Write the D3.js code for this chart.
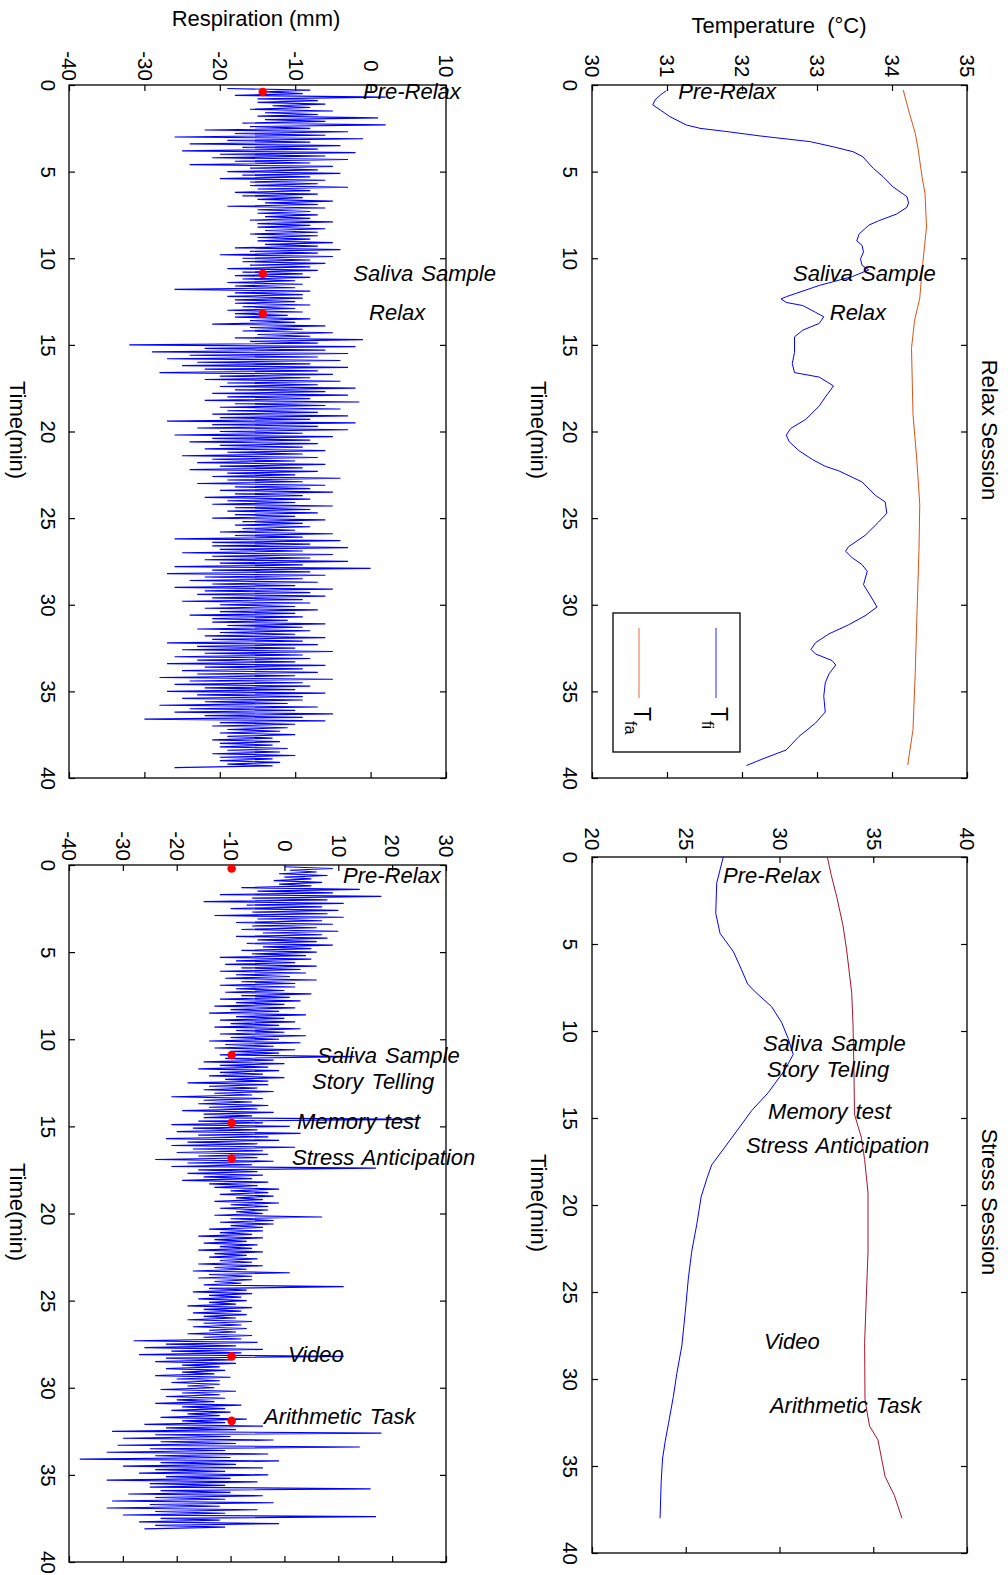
<!DOCTYPE html>
<html>
<head>
<meta charset="utf-8">
<script src="https://cdn.jsdelivr.net/npm/d3@7"></script>
<style>
  html, body { margin: 0; padding: 0; background: #fff; }
  svg { display: block; font-family: "Liberation Sans", Arial, Helvetica, sans-serif; }
</style>
</head>
<body>
<svg id="fig" width="1008" height="1575"></svg>
<script>
// ---------- tick values ----------
const timeTicks = [0, 5, 10, 15, 20, 25, 30, 35, 40];
const relaxTempTicks = [30, 31, 32, 33, 34, 35];
const stressTempTicks = [20, 25, 30, 35, 40];
const relaxRespTicks = [-40, -30, -20, -10, 0, 10];
const stressRespTicks = [-40, -30, -20, -10, 0, 10, 20, 30];

// ---------- facial temperatures: [time (min), temperature (°C)] ----------
const relaxTfi = [
  [0.33,30.99],[0.58,30.91],[0.87,30.84],[1.15,30.81],[1.44,30.91],[1.83,31.04],[2.31,31.26],[2.5,31.44],
  [2.69,31.8],[2.94,32.24],[3.27,32.91],[3.56,33.21],[3.85,33.48],[4.14,33.61],[4.81,33.75],[5.29,33.88],
  [5.87,34.01],[6.45,34.2],[6.8,34.22],[7.06,34.2],[7.45,34.06],[7.84,33.82],[8.09,33.69],[8.61,33.56],
  [9.0,33.53],[9.25,33.6],[9.64,33.62],[10.03,33.58],[10.41,33.6],[10.67,33.69],[11.06,33.47],[11.57,33.03],
  [12.22,32.59],[12.35,32.52],[12.55,32.59],[12.73,32.81],[13.12,32.98],[13.38,33.09],[13.76,33.03],[14.15,32.81],
  [14.54,32.7],[15.44,32.7],[16.08,32.67],[16.6,32.7],[16.86,33.03],[17.37,33.22],[18.02,33.11],[18.53,33.03],
  [19.3,32.85],[19.82,32.65],[20.21,32.59],[20.59,32.63],[21.11,32.76],[21.62,32.94],[22.01,33.11],[22.27,33.29],
  [22.91,33.6],[23.69,33.78],[24.07,33.91],[24.72,33.93],[25.23,33.82],[26.0,33.64],[26.65,33.42],[26.91,33.38],
  [27.29,33.47],[27.68,33.6],[28.07,33.67],[28.84,33.62],[29.61,33.73],[30.13,33.8],[30.64,33.64],[31.16,33.42],
  [31.68,33.16],[32.19,32.98],[32.58,32.92],[32.84,32.98],[33.22,33.2],[33.48,33.25],[33.99,33.16],[34.51,33.11],
  [35.28,33.09],[36.19,33.11],[36.83,32.98],[37.6,32.76],[38.38,32.59],[38.89,32.28],[39.28,32.06]
];
const relaxTfa = [
  [0.29,34.15],[1.44,34.22],[2.79,34.31],[3.75,34.35],[5.29,34.4],[6.25,34.44],[8.2,34.46],[10.3,34.41],
  [12.3,34.37],[13.6,34.3],[15.2,34.26],[19.0,34.28],[21.6,34.33],[24.2,34.37],[26.8,34.36],[30.9,34.33],
  [33.9,34.31],[37.2,34.28],[39.25,34.21]
];
const stressTfi = [
  [0,27.0],[1.5,26.65],[3.24,26.6],[4.39,26.83],[5.44,27.54],[6.49,27.98],[7.3,28.3],[7.8,28.75],
  [8.59,29.57],[9.5,30.11],[10.42,30.46],[11.35,30.73],[12.24,30.28],[13.54,29.4],[14.58,28.51],[15.63,27.8],
  [16.67,27.09],[17.7,26.38],[18.5,26.12],[19.53,25.82],[21.1,25.59],[22.66,25.32],[24.2,25.14],[26.3,24.96],
  [28.1,24.79],[29.7,24.52],[31.0,24.34],[32.55,24.08],[33.6,23.9],[34.6,23.76],[35.9,23.69],[38.0,23.63]
];
const stressTfa = [
  [0,32.55],[1.0,32.75],[2.28,33.05],[3.9,33.38],[5.34,33.58],[7.8,33.85],[9.6,33.92],[12.2,33.97],
  [14.8,34.0],[16.1,34.36],[17.4,34.54],[19.3,34.72],[22.7,34.72],[25.3,34.63],[27.9,34.54],[31.2,34.56],
  [32.7,34.8],[33.5,35.25],[35.6,35.63],[36.7,36.13],[38.0,36.53]
];

// ---------- respiration (mm), sampled every 0.1 min ----------
const respStep = 0.1;
const respRelaxStart = 0.2;
const respRelax = [
  -19,-8,-14,-9, -18,2,-15,-7, -15,-6,-13,-8, -16,-5,-14,-7, -15,1,-14,-6,
  -17,2,-16,-8, -22,-3,-18,-6, -26,-1,-19,-8, -24,-4,-17,-7, -25,-2,-20,-6,
  -21,-3,-18,-8, -24,-5,-16,-7, -19,-4,-17,-8, -20,-6,-16,-7, -16,-3,-15,-8,
  -18,-7,-17,-9, -15,-5,-14,-7, -19,-6,-15,-8, -15,-7,-14,-8, -16,-5,-15,-8,
  -15,-6,-14,-7, -16,-7,-15,-8, -15,-5,-14,-7, -18,-4,-16,-7, -20,-5,-17,-8,
  -17,-6,-16,-8, -19,-7,-17,-9, -18,-8,-17,-10, -19,-9,-18,-10, -26,-8,-18,-9,
  -19,-9,-18,-10, -18,-8,-17,-10, -19,-9,-18,-11, -18,-8,-16,-10, -21,-6,-16,-9,
  -17,-5,-15,-8, -18,-1,-16,-7, -32,-2,-22,-6, -29,-3,-24,-7, -27,-4,-23,-8,
  -25,-3,-22,-7, -28,-5,-20,-8, -22,-4,-19,-7, -20,-2,-18,-6, -21,-3,-19,-8,
  -22,-1.5,-18,-6, -20,-4,-19,-7, -21,-3,-20,-8, -27,-2,-21,-7, -23,-3,-20,-9,
  -26,-5,-21,-8, -24,-7,-20,-9, -22,-6,-19,-9, -25,-7,-21,-10, -23,-6,-20,-9,
  -24,-7,-19,-10, -21,-4,-19,-9, -23,-6,-18,-8, -20,-5,-18,-9, -22,-8,-19,-10,
  -21,-5,-18,-8, -19,-7,-18,-10, -21,-6,-17,-9, -18,-8,-17,-10, -20,-5,-18,-9,
  -26,-4,-21,-8, -21,-3,-20,-9, -25,-5,-21,-8, -22,-3,-20,-9, -26,0,-21,-8,
  -27,-6,-22,-9, -24,-7,-21,-10, -26,-5,-22,-8, -23,-6,-21,-9, -25,-8,-20,-10,
  -22,-7,-20,-10, -24,-9,-21,-11, -21,-6,-19,-9, -23,-8,-20,-10, -22,-6,-21,-9,
  -27,-7,-23,-10, -25,-5,-22,-9, -26,-8,-23,-10, -27,-6,-22,-9, -25,-7,-23,-10,
  -28,-5,-24,-9, -26,-8,-22,-10, -27,-6,-23,-9, -25,-9,-22,-11, -28,-7,-24,-10,
  -26,-5,-22,-9, -30,-6,-20,-10, -21,-11,-19,-12, -20,-10,-19,-13, -21,-12,-20,-13,
  -20,-11,-19,-12, -21,-10,-20,-13, -20,-12,-19,-13,
  -26
];
const respStressStart = 0.1;
const respStress = [
  0,9,1,6, -1,8,0,5, -2,7,-1,5, -8,14,-5,9, -12,18,-6,8,
  -15,11,-7,7, -10,10,-6,8, -13,11,-5,7, -9,9,-6,6, -8,10,-4,7,
  -9,8,-5,6, -7,9,-4,5, -8,6,-6,4, -12,5,-9,2, -11,6,-8,3,
  -12,4,-9,1, -11,6,-8,2, -12,2,-9,0, -11,5,-8,1, -12,3,-9,0,
  -13,2,-10,-1, -14,4,-9,0, -12,2,-10,-1, -13,3,-9,0, -12,4,-10,-1,
  -14,3,-11,-2, -13,2,-10,-1, -12,13,-11,-2, -15,0,-12,-3, -16,-1,-12,-4,
  -14,0,-11,-3, -18,-3,-14,-5, -15,-2,-13,-6, -21,-4,-15,-6, -16,-3,-14,-5,
  -19,-2,-15,-6, -15,25,-16,-4, -21,1,-17,-5, -20,3,-16,-3, -22,-1,-18,-5,
  -21,2,-17,-4, -20,-3,-16,-5, -24,-2,-18,-6, -21,17,-16,-5, -18,-4,-15,-6,
  -19,-3,-14,-5, -13,-1,-10,-3, -12,-2,-9,-4, -13,-1,-10,-3, -12,-3,-9,-4,
  -13,7,-10,-2, -12,-2,-10,-4, -14,-4,-12,-6, -16,-4,-13,-7, -15,-5,-12,-6,
  -16,-4,-13,-7, -14,-5,-12,-6, -16,-4,-13,-7, -17,1,-14,-6, -16,-6,-13,-8,
  -15,11,-14,-7, -17,-6,-14,-8, -16,-7,-14,-9, -18,-6,-15,-8, -17,-7,-15,-9,
  -18,-6,-15,-8, -17,-7,-14,-9, -18,-6,-15,-8, -28,-5,-22,-9, -26,-4,-21,-8,
  -27,11,-22,-10, -24,-9,-19,-12, -22,-11,-19,-13, -24,-10,-20,-12, -21,-12,-18,-13,
  -23,-9,-19,-12, -22,-11,-20,-13, -24,-8,-19,-11, -21,-10,-18,-12, -23,-7,-19,-11,
  -26,-4,-22,-9, -32,18,-24,-10, -30,-2,-23,-9, -31,14,-25,-11, -33,-3,-24,-10,
  -38,-1,-23,-9, -30,-4,-24,-11, -27,-3,-22,-10, -33,-5,-25,-11, -25,16,-23,-10,
  -29,-4,-24,-11, -32,-2,-25,-12, -33,-5,-24,-11, -30,17,-23,-12, -27,-1,-24,-11,
  -26
];

// ---------- session events ----------
const relaxEvents = ['Pre-Relax', 'Saliva Sample', 'Relax'];
const relaxEventTimes = [0.4, 10.9, 13.2];
const relaxMarkerLevel = -14.3;
const relaxTempLabelAt = [[0.36,31.15],[10.87,32.68],[13.12,33.17]];
const relaxRespLabelAt = [[0.36,-1.0],[10.87,-2.3],[13.12,-0.2]];

const stressEvents = ['Pre-Relax', 'Saliva Sample', 'Story Telling', 'Memory test',
                      'Stress Anticipation', 'Video', 'Arithmetic Task'];
const stressEventTimes = [0.2, 10.9, 14.8, 16.85, 28.2, 31.9];
const stressMarkerLevel = -9.8;
const stressTempLabelAt = [[1.08,26.99],[10.7,29.12],[12.2,29.33],[14.6,29.39],[16.57,28.21],[27.83,29.17],[31.51,29.49]];
const stressRespLabelAt = [[0.59,10.87],[10.92,6.05],[12.4,5.12],[14.71,2.33],[16.76,1.4],[28.08,0.66],[31.66,-3.8]];

const legendNames = [['T', 'fi'], ['T', 'fa']];

// ---------- drawing ----------
const svg = d3.select('#fig');
const BLUE = '#0000ff', ORANGE = '#d95319', CRIMSON = '#a2142f', RED = '#ff0000';

// The figure is laid out turned a quarter turn: time runs down the page,
// the measured quantity runs left to right.
function makePanel(xRange, yRange, vDomain) {
  return {
    x: d3.scaleLinear().domain(vDomain).range(xRange),
    y: d3.scaleLinear().domain([0, 40]).range(yRange)
  };
}

function drawFrame(p, vTicks, valueLabelY, timeLabelX) {
  const g = svg.append('g');
  const [x0, x1] = p.x.range();
  const [y0, y1] = p.y.range();
  const T = 6;
  const fmt = d => String(d);
  const top = g.append('g').attr('transform', `translate(0,${y0})`)
    .call(d3.axisTop(p.x).tickValues(vTicks).tickSizeInner(-T).tickSizeOuter(0).tickFormat(fmt));
  const bottom = g.append('g').attr('transform', `translate(0,${y1})`)
    .call(d3.axisBottom(p.x).tickValues(vTicks).tickSizeInner(-T).tickSizeOuter(0));
  const left = g.append('g').attr('transform', `translate(${x0},0)`)
    .call(d3.axisLeft(p.y).tickValues(timeTicks).tickSizeInner(-T).tickSizeOuter(0).tickFormat(fmt));
  const right = g.append('g').attr('transform', `translate(${x1},0)`)
    .call(d3.axisRight(p.y).tickValues(timeTicks).tickSizeInner(-T).tickSizeOuter(0));
  [top, bottom, left, right].forEach(a => {
    a.attr('font-family', null).attr('font-size', null);
    a.select('.domain').remove();
    a.selectAll('line').attr('stroke', '#000').attr('stroke-width', 1.2);
  });
  bottom.selectAll('text').remove();
  right.selectAll('text').remove();

  const ty = valueLabelY - y0;
  top.selectAll('text')
    .attr('x', 0).attr('y', ty).attr('dy', '0.35em')
    .attr('text-anchor', 'middle')
    .attr('transform', `rotate(90,0,${ty})`)
    .attr('fill', '#000').style('font-size', '20.5px');
  const tx = timeLabelX - x0;
  left.selectAll('text')
    .attr('x', tx).attr('y', 0).attr('dy', '0.35em')
    .attr('text-anchor', 'middle')
    .attr('transform', `rotate(90,${tx},0)`)
    .attr('fill', '#000').style('font-size', '20.5px');

  g.append('rect')
    .attr('x', x0).attr('y', y0).attr('width', x1 - x0).attr('height', y1 - y0)
    .attr('fill', 'none').attr('stroke', '#000').attr('stroke-width', 1.3);
}

function drawSeries(p, pts, color, width) {
  const line = d3.line().x(d => p.x(d[1])).y(d => p.y(d[0]));
  svg.append('path').datum(pts)
    .attr('d', line).attr('fill', 'none')
    .attr('stroke', color).attr('stroke-width', width || 1).attr('stroke-linejoin', 'miter');
}

function sampled(values, start) {
  return values.map((v, i) => [start + i * respStep, v]);
}

function drawMarkers(p, times, level) {
  svg.append('g').selectAll('circle').data(times).join('circle')
    .attr('cx', p.x(level)).attr('cy', d => p.y(d)).attr('r', 4.3)
    .attr('fill', RED);
}

function drawEventLabels(p, names, at) {
  svg.append('g').selectAll('text').data(names).join('text')
    .attr('x', (d, i) => p.x(at[i][1]))
    .attr('y', (d, i) => p.y(at[i][0]))
    .attr('dy', '0.35em')
    .attr('font-style', 'italic').attr('font-size', 22).attr('fill', '#000')
    .attr('word-spacing', 2)
    .text(d => d);
}

function rotatedText(text, cx, cy, size) {
  svg.append('text')
    .attr('x', cx).attr('y', cy).attr('dy', '0.35em')
    .attr('text-anchor', 'middle')
    .attr('transform', `rotate(90,${cx},${cy})`)
    .attr('font-size', size).attr('fill', '#000')
    .text(text);
}

// panels
const pRelaxTemp  = makePanel([592, 967], [85, 778], [30, 35]);
const pRelaxResp  = makePanel([69, 446], [85, 778], [-40, 10]);
const pStressTemp = makePanel([592, 967], [857, 1553], [20, 40]);
const pStressResp = makePanel([69, 446], [865, 1562], [-40, 30]);

drawFrame(pRelaxTemp, relaxTempTicks, 66, 570);
drawFrame(pRelaxResp, relaxRespTicks, 66, 48);
drawFrame(pStressTemp, stressTempTicks, 839, 570);
drawFrame(pStressResp, stressRespTicks, 846, 48);

// temperature traces
drawSeries(pRelaxTemp, relaxTfi, BLUE);
drawSeries(pRelaxTemp, relaxTfa, ORANGE);
drawSeries(pStressTemp, stressTfi, BLUE);
drawSeries(pStressTemp, stressTfa, CRIMSON);

// respiration traces
drawSeries(pRelaxResp, sampled(respRelax, respRelaxStart), BLUE, 1.15);
drawSeries(pStressResp, sampled(respStress, respStressStart), BLUE, 1.15);

// event markers and labels
drawMarkers(pRelaxResp, relaxEventTimes, relaxMarkerLevel);
drawMarkers(pStressResp, stressEventTimes, stressMarkerLevel);
drawEventLabels(pRelaxTemp, relaxEvents, relaxTempLabelAt);
drawEventLabels(pRelaxResp, relaxEvents, relaxRespLabelAt);
drawEventLabels(pStressTemp, stressEvents, stressTempLabelAt);
drawEventLabels(pStressResp, stressEvents, stressRespLabelAt);

// legend (relax temperature panel)
const lg = svg.append('g');
lg.append('rect').attr('x', 613).attr('y', 613).attr('width', 127).attr('height', 139)
  .attr('fill', '#fff').attr('stroke', '#000').attr('stroke-width', 1.3);
[[BLUE, 716], [ORANGE, 639]].forEach(([c, lx], i) => {
  lg.append('line').attr('x1', lx).attr('x2', lx).attr('y1', 628).attr('y2', 698)
    .attr('stroke', c).attr('stroke-width', 1.2).attr('stroke-opacity', 0.7);
  const t = lg.append('text')
    .attr('transform', `translate(${lx - 5},707) rotate(90)`)
    .attr('font-size', 23).attr('fill', '#000');
  t.append('tspan').text(legendNames[i][0]);
  t.append('tspan').attr('dy', 9).attr('font-size', 16).text(legendNames[i][1]);
});

// axis titles and session titles
svg.append('text').attr('x', 779).attr('y', 33).attr('text-anchor', 'middle')
  .attr('font-size', 22).attr('fill', '#000').style('white-space', 'pre')
  .text('Temperature  (\u00B0C)');
svg.append('text').attr('x', 256).attr('y', 26).attr('text-anchor', 'middle')
  .attr('font-size', 22).attr('fill', '#000')
  .text('Respiration (mm)');

rotatedText('Time(min)', 539, 430, 22);
rotatedText('Time(min)', 18, 430, 22);
rotatedText('Time(min)', 539, 1203, 22);
rotatedText('Time(min)', 18, 1212, 22);
rotatedText('Relax Session', 990, 430, 22);
rotatedText('Stress Session', 990, 1202, 22);
</script>
</body>
</html>
